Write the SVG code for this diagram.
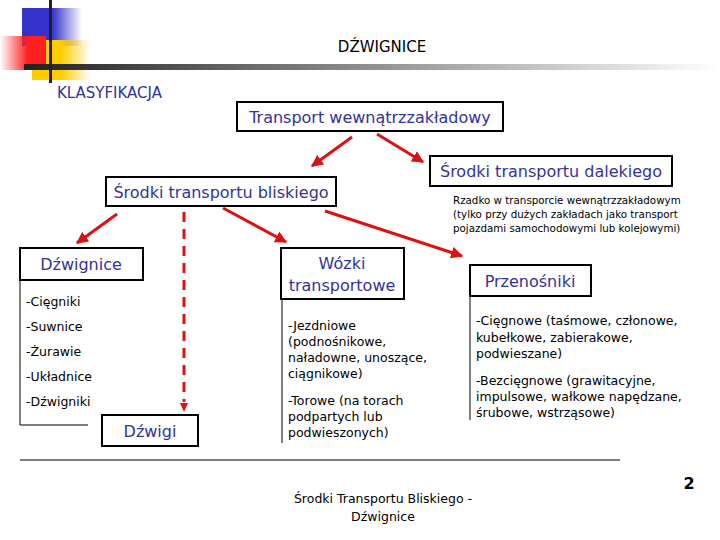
<svg xmlns="http://www.w3.org/2000/svg" width="720" height="540" viewBox="0 0 720 540">
<defs>
<linearGradient id="bar" x1="0" x2="1"><stop offset="0" stop-color="#222"/><stop offset="1" stop-color="#fff"/></linearGradient>
<linearGradient id="bl" x1="0" x2="1"><stop offset="0.5" stop-color="#3333cc"/><stop offset="1" stop-color="#3333cc" stop-opacity="0"/></linearGradient>
<linearGradient id="rd" x1="1" x2="0"><stop offset="0.4" stop-color="#ff2020"/><stop offset="1" stop-color="#ff2020" stop-opacity="0"/></linearGradient>
<linearGradient id="yl" x1="0" x2="1"><stop offset="0.5" stop-color="#ffcc00"/><stop offset="1" stop-color="#ffcc00" stop-opacity="0"/></linearGradient>
<marker id="ar" viewBox="0 0 10 10" refX="9" refY="5" markerWidth="4" markerHeight="4" orient="auto"><path d="M0,0L10,5L0,10z" fill="#dd1111"/></marker>
<style>
.box{fill:#fff;stroke:#000;stroke-width:2}
.t{font-family:Tahoma,"DejaVu Sans",sans-serif;fill:#333399;font-size:16px;text-anchor:middle}
.s{font-family:"DejaVu Sans",sans-serif;fill:#000;font-size:12.5px}
.c{stroke:#dd1111;stroke-width:3;fill:none;marker-end:url(#ar)}
.ln{stroke:#000;stroke-width:1;fill:none}
</style>
</defs>
<rect x="22" y="8" width="60" height="38" fill="url(#bl)"/>
<rect x="32" y="40" width="58" height="40" fill="url(#yl)"/>
<rect x="0" y="36" width="46" height="34" fill="url(#rd)"/>
<rect x="24" y="64" width="696" height="6" fill="url(#bar)"/>
<rect x="49" y="0" width="3" height="83" fill="#222"/>
<text x="382" y="52" font-family="Tahoma,'DejaVu Sans',sans-serif" font-size="15" text-anchor="middle">DŹWIGNICE</text>
<text x="57" y="98" class="t" style="text-anchor:start;font-size:15px">KLASYFIKACJA</text>
<g id="connectors">
<line class="c" x1="352" y1="137" x2="312" y2="166"/>
<line class="c" x1="377" y1="134" x2="423" y2="162"/>
<line class="c" x1="117" y1="214" x2="77" y2="243"/>
<line class="c" x1="223" y1="208" x2="286" y2="242"/>
<line class="c" x1="325" y1="211" x2="462" y2="256"/>
<line x1="184" y1="212" x2="184" y2="402" stroke="#dd1111" stroke-width="3" stroke-dasharray="10,7"/>
<path d="M180,403L188,403L184,412z" fill="#dd1111"/>
<path class="ln" d="M20,280V425H88M282,299V443M470,296V420"/>
</g>
<g id="n1"><rect class="box" x="237" y="102" width="266" height="29"/><text class="t" x="370" y="123">Transport wewnątrzzakładowy</text></g>
<g id="n2"><rect class="box" x="106" y="177" width="230" height="29"/><text class="t" x="221" y="198">Środki transportu bliskiego</text></g>
<g id="n3"><rect class="box" x="430" y="156" width="242" height="30"/><text class="t" x="551" y="177">Środki transportu dalekiego</text>
<text class="s" x="453" y="204" style="font-size:10.3px">Rzadko w transporcie wewnątrzzakładowym</text>
<text class="s" x="453" y="218" style="font-size:10.3px">(tylko przy dużych zakładach jako transport</text>
<text class="s" x="453" y="232" style="font-size:10.3px">pojazdami samochodowymi lub kolejowymi)</text></g>
<g id="n4"><rect class="box" x="20" y="248" width="123" height="32"/><text class="t" x="81" y="270">Dźwignice</text>
<text class="s" x="26" y="306">-Cięgniki</text><text class="s" x="26" y="331">-Suwnice</text><text class="s" x="26" y="356">-Żurawie</text><text class="s" x="26" y="381">-Układnice</text><text class="s" x="26" y="406">-Dźwigniki</text></g>
<g id="n5"><rect class="box" x="102" y="415" width="96" height="31"/><text class="t" x="150" y="437">Dźwigi</text></g>
<g id="n6"><rect class="box" x="281" y="248" width="123" height="51"/><text class="t" x="342" y="269">Wózki</text><text class="t" x="342" y="291">transportowe</text>
<text class="s" x="288" y="330">-Jezdniowe</text><text class="s" x="288" y="346">(podnośnikowe,</text><text class="s" x="288" y="362">naładowne, unoszące,</text><text class="s" x="288" y="378">ciągnikowe)</text>
<text class="s" x="288" y="405">-Torowe (na torach</text><text class="s" x="288" y="421">podpartych lub</text><text class="s" x="288" y="437">podwieszonych)</text></g>
<g id="n7"><rect class="box" x="470" y="265" width="121" height="31"/><text class="t" x="530" y="287">Przenośniki</text>
<text class="s" x="476" y="325">-Cięgnowe (taśmowe, członowe,</text><text class="s" x="476" y="342">kubełkowe, zabierakowe,</text><text class="s" x="476" y="358">podwieszane)</text>
<text class="s" x="476" y="385">-Bezcięgnowe (grawitacyjne,</text><text class="s" x="476" y="401">impulsowe, wałkowe napędzane,</text><text class="s" x="476" y="417">śrubowe, wstrząsowe)</text></g>
<line x1="20" y1="460" x2="620" y2="460" stroke="#000"/>
<text class="s" x="383" y="503" text-anchor="middle">Środki Transportu Bliskiego -</text>
<text class="s" x="383" y="521" text-anchor="middle">Dźwignice</text>
<text x="689" y="489" font-family="'DejaVu Sans',sans-serif" font-weight="bold" font-size="16" text-anchor="middle">2</text>
</svg>
